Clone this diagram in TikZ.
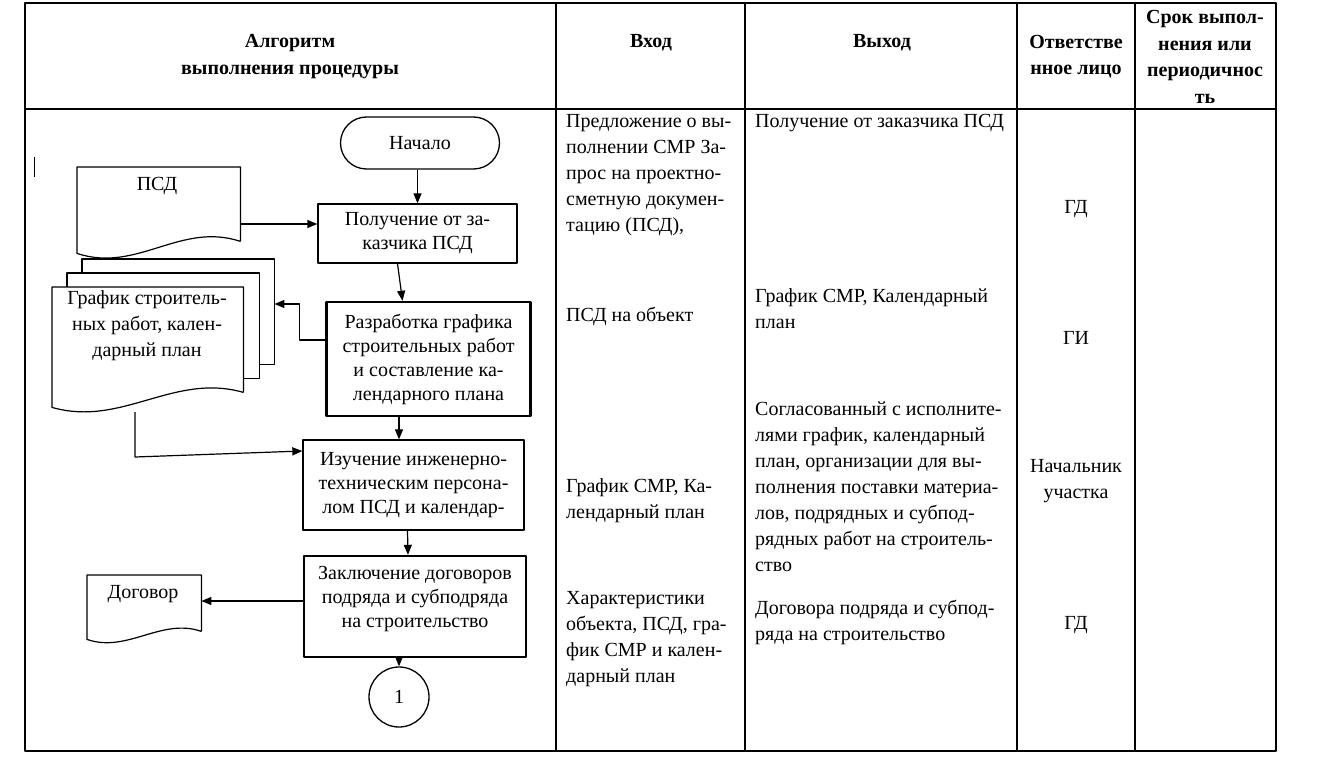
\documentclass[tikz,border=0pt]{standalone}
\usepackage{fontspec}
\setmainfont{Liberation Serif}
\usetikzlibrary{arrows.meta,shapes.misc}

\tikzset{
  txt/.style={font=\fontsize{20}{26}\selectfont, inner sep=0pt},
  hdr/.style={font=\fontsize{20}{26.7}\selectfont\bfseries, inner sep=0pt, align=center},
  cell/.style={txt, anchor=west, align=left},
  blk/.style={draw, line width=1.3pt, font=\fontsize{20}{24}\selectfont, inner sep=0pt, align=center},
  blkthick/.style={blk, line width=2.4pt},
  docbody/.style={inner sep=0pt, anchor=north west},
  docline/.style={draw, line width=1.2pt, fill=white},
  grid/.style={line width=1.4pt},
  conn/.style={line width=1.2pt, ->}
}

\begin{document}
\begin{tikzpicture}[x=1pt, y=-1pt, line join=round, >={Triangle[length=10pt,width=8pt]}]
\useasboundingbox (0,0) rectangle (1320,762);
% table
\draw[grid] (25,3) rectangle (1276,751);
\draw[grid] (25,109) -- (1276,109);
\foreach \cx in {556,745,1017,1135}
  \draw[grid] (\cx,3) -- (\cx,751);
% header
\node[hdr] (halg) at (290,56.5) {Алгоритм\\выполнения процедуры};
\node[hdr] (hin) at (651,43) {Вход};
\node[hdr] (hout) at (882,43) {Выход};
\node[hdr] (hresp) at (1076,56.5) {Ответстве\\нное лицо};
\node[hdr] (hterm) at (1205,57) {Срок выпол-\\нения или\\периодичнос\\ть};

% column Вход
\node[cell] (in1) at (566,175) {Предложение о вы-\\полнении СМР За-\\прос на проектно-\\сметную докумен-\\тацию (ПСД),};
\node[cell] (in2) at (566,316) {ПСД на объект};
\node[cell] (in3) at (566,501) {График СМР, Ка-\\лендарный план};
\node[cell] (in4) at (566,639.5) {Характеристики\\объекта, ПСД, гра-\\фик СМР и кален-\\дарный план};

% column Выход
\node[cell] (out1) at (755,123) {Получение от заказчика ПСД};
\node[cell] (out2) at (755,309) {График СМР, Календарный\\план};
\node[cell] (out3) at (755,487) {Согласованный с исполните-\\лями график, календарный\\план, организации для вы-\\полнения поставки материа-\\лов, подрядных и субпод-\\рядных работ на строитель-\\ство};
\node[cell] (out4) at (755,622) {Договора подряда и субпод-\\ряда на строительство};

% column Ответственное лицо
\node[txt] (resp1) at (1076,209) {ГД};
\node[txt] (resp2) at (1076,338) {ГИ};
\node[txt, align=center] (resp3) at (1076,481) {Начальник\\участка};
\node[txt] (resp4) at (1076,625) {ГД};

% stray mark
\draw[line width=1pt] (34,157) -- (34,177);

% flowchart
\node[blk, rounded rectangle, minimum width=159, minimum height=52] (start) at (420,143) {Начало};
\node[blk, minimum width=199, minimum height=59] (pol) at (417.5,233.5) {Получение от за-\\казчика ПСД};
\node[blkthick, minimum width=204, minimum height=114] (razr) at (428.5,359) {Разработка графика\\строительных работ\\и составление ка-\\лендарного плана};
\node[blk, minimum width=221, minimum height=90] (izuch) at (413.5,485) {Изучение инженерно-\\техническим персона-\\лом ПСД и календар-};
\node[blkthick, minimum width=222, minimum height=101] (zakl) at (415,606.5) {};
\node[blk, draw=none, align=center] (zakltext) at (415,599) {Заключение договоров\\подряда и субподряда\\на строительство};
\node[blk, circle, minimum size=60] (circ) at (399,697) {1};

% documents
\node[docbody, minimum width=163, minimum height=74] (psd) at (77,167) {};
\draw[docline] (psd.south east) -- (psd.north east) -- (psd.north west) -- ([yshift=-12]psd.south west)
  .. controls +(60,20) and +(-60,-20) .. (psd.south east);
\node[txt] (psdtext) at (157,186) {ПСД};

\node[docbody, minimum width=192, minimum height=105] (gb) at (82,259) {};
\draw[docline] (gb.north west) rectangle (gb.south east);
\node[docbody, minimum width=192, minimum height=105] (gm) at (67,273) {};
\draw[docline] (gm.north west) rectangle (gm.south east);
\node[docbody, minimum width=191, minimum height=105] (gf) at (52,287) {};
\draw[docline] (gf.south east) -- (gf.north east) -- (gf.north west) -- ([yshift=-15]gf.south west)
  .. controls +(70,20) and +(-70,-20) .. (gf.south east);
\node[txt, align=center] (gftext) at (147,326) {График строитель-\\ных работ, кален-\\дарный план};
\coordinate (gfout) at (135,412);

\node[docbody, minimum width=114, minimum height=56] (dog) at (87,575) {};
\draw[docline] (dog.south east) -- (dog.north east) -- (dog.north west) -- ([yshift=-8]dog.south west)
  .. controls +(40,14) and +(-40,-14) .. (dog.south east);
\node[txt] (dogtext) at (143,594) {Договор};

% connectors
\draw[conn] (pol.north |- start.south) -- (pol.north);
\draw[conn] (psd.east |- 0,224) -- (pol.west |- 0,224);
\draw[conn] ([xshift=-20]pol.south) -- ([xshift=-26]razr.north);
\draw[conn] ([yshift=19]razr.west) -- ++(-26,0) -- ++(0,-36) -- (gb.east |- 0,304);
\draw[conn] (razr.south -| circ.center) -- (izuch.north -| circ.center);
\draw[conn] (gfout) -- (135,457) -- ([yshift=34]izuch.west);
\draw[conn] ([xshift=-6]izuch.south) -- ([xshift=-7]zakl.north);
\draw[conn] (zakl.west |- 0,601) -- (dog.east |- 0,601);
\draw[conn] (zakl.south -| circ.center) -- (circ.north);
\end{tikzpicture}
\end{document}
